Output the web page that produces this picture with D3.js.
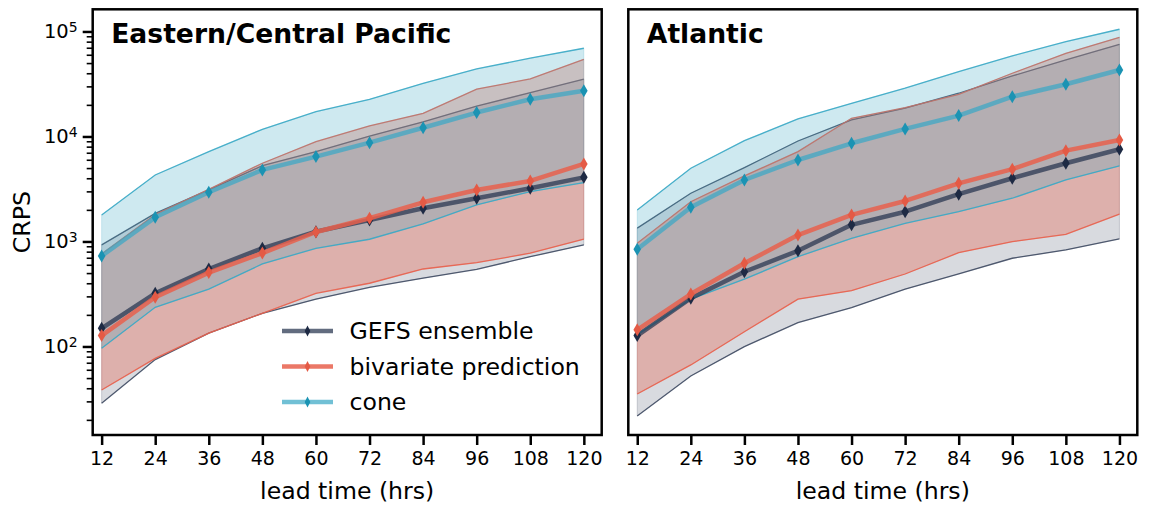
<!DOCTYPE html>
<html>
<head>
<meta charset="utf-8">
<script src="https://cdn.jsdelivr.net/npm/d3@7"></script>
<style>
  body { margin: 0; background: #fff; }
  svg { display: block; font-family: "DejaVu Sans", sans-serif; }
</style>
</head>
<body>
<svg id="chart"></svg>
<script>
// 1. Data (CRPS by lead time)
const leadTimes = [12, 24, 36, 48, 60, 72, 84, 96, 108, 120];
const seriesNames = ["GEFS ensemble", "bivariate prediction", "cone"];
const panelTitles = ["Eastern/Central Pacific", "Atlantic"];
const yMajorTicks = [100, 1000, 10000, 100000];

// Eastern/Central Pacific
const pacGefsMed = [149, 321, 547, 861, 1240, 1600, 2070, 2580, 3210, 4080];
const pacGefsLo = [28.8, 75, 134, 207, 282, 366, 447, 543, 716, 927];
const pacGefsHi = [927, 1850, 3100, 5270, 7170, 10100, 13800, 19500, 26100, 35100];
const pacBivMed = [127, 294, 505, 775, 1230, 1663, 2360, 3090, 3770, 5470];
const pacBivLo = [38.5, 77, 134, 207, 321, 400, 547, 628, 773, 1050];
const pacBivHi = [760, 1800, 3140, 5560, 8920, 12600, 16600, 28200, 35300, 54300];
const pacConeMed = [728, 1698, 2940, 4800, 6430, 8730, 12100, 16900, 22600, 27300];
const pacConeLo = [96, 236, 351, 611, 861, 1050, 1470, 2230, 2980, 3630];
const pacConeHi = [1790, 4300, 7170, 11700, 17200, 22600, 32100, 44000, 55600, 69200];

// Atlantic
const atlGefsMed = [127, 288, 515, 815, 1440, 1920, 2820, 4000, 5560, 7560];
const atlGefsLo = [21.8, 52.4, 99.6, 169, 234, 351, 490, 692, 830, 1060];
const atlGefsHi = [1340, 2880, 5050, 9060, 14400, 18600, 25800, 37700, 53500, 75500];
const atlBivMed = [144, 316, 620, 1150, 1790, 2430, 3580, 4880, 7330, 9270];
const atlBivLo = [35.3, 66.7, 138, 282, 340, 490, 782, 995, 1170, 1820];
const atlBivHi = [962, 2390, 4210, 7170, 14900, 18800, 25200, 40000, 62000, 88000];
const atlConeMed = [843, 2120, 3850, 5970, 8610, 11800, 15800, 23900, 31400, 43000];
const atlConeLo = [129, 282, 437, 716, 1070, 1490, 1920, 2580, 3850, 5240];
const atlConeHi = [1995, 4980, 9120, 14700, 20700, 28800, 41400, 58500, 80000, 105000];

const panels = [
  {
    title: panelTitles[0],
    left: 92.7,
    med: [pacGefsMed, pacBivMed, pacConeMed],
    lo: [pacGefsLo, pacBivLo, pacConeLo],
    hi: [pacGefsHi, pacBivHi, pacConeHi],
    yLabels: true,
    legend: true,
  },
  {
    title: panelTitles[1],
    left: 628.3,
    med: [atlGefsMed, atlBivMed, atlConeMed],
    lo: [atlGefsLo, atlBivLo, atlConeLo],
    hi: [atlGefsHi, atlBivHi, atlConeHi],
    yLabels: false,
    legend: false,
  },
];

// 2. Styling
const baseColors = ["#26334d", "#e8604c", "#3aa8c5"];
const markerColors = ["#1e2a44", "#e45a45", "#1b93b3"];
const fillAlpha = [0.18, 0.35, 0.25];

const width = 1152,
  height = 510,
  marginTop = 9.3,
  panelW = 509,
  panelH = 425.7;

const svg = d3.select("#chart").attr("width", width).attr("height", height);

const x = d3.scaleLinear().domain([10, 124]).range([0, panelW]);
const y = d3.scaleLog().domain([14.35, 162600]).range([panelH, 0]);

// thin diamond marker ('d' in matplotlib)
const diamond = (w, h) => `M0,${-h}L${w},0L0,${h}L${-w},0Z`;

// 3. Draw panels
panels.forEach((p) => {
  const g = svg.append("g").attr("transform", `translate(${p.left},${marginTop})`);

  // fills with their edges
  seriesNames.forEach((name, s) => {
    const area = d3
      .area()
      .x((d, i) => x(leadTimes[i]))
      .y0((d, i) => y(p.lo[s][i]))
      .y1((d, i) => y(p.hi[s][i]));

    g.append("path")
      .attr("d", area(leadTimes))
      .attr("fill", baseColors[s])
      .attr("fill-opacity", fillAlpha[s])
      .attr("stroke", baseColors[s])
      .attr("stroke-opacity", 0.2)
      .attr("stroke-width", 1);

    [p.lo[s], p.hi[s]].forEach((vals) => {
      g.append("path")
        .attr(
          "d",
          d3
            .line()
            .x((d, i) => x(leadTimes[i]))
            .y((d) => y(d))(vals)
        )
        .attr("fill", "none")
        .attr("stroke", baseColors[s])
        .attr("stroke-opacity", s === 0 ? 0.75 : 0.9)
        .attr("stroke-width", 1.3);
    });
  });

  // median lines and markers
  seriesNames.forEach((name, s) => {
    const line = d3
      .line()
      .x((d, i) => x(leadTimes[i]))
      .y((d) => y(d));

    g.append("path")
      .attr("d", line(p.med[s]))
      .attr("fill", "none")
      .attr("stroke", baseColors[s])
      .attr("stroke-opacity", s === 1 ? 0.85 : 0.72)
      .attr("stroke-width", 4.5)
      .attr("stroke-linejoin", "round");

    g.selectAll(null)
      .data(p.med[s])
      .enter()
      .append("path")
      .attr("d", diamond(3.8, 6.5))
      .attr("transform", (d, i) => `translate(${x(leadTimes[i])},${y(d)})`)
      .attr("fill", markerColors[s]);
  });

  // x axis
  const xAxis = g
    .append("g")
    .attr("transform", `translate(0,${panelH})`)
    .call(d3.axisBottom(x).tickValues(leadTimes).tickSize(10).tickPadding(7));
  xAxis.select(".domain").remove();
  xAxis.selectAll(".tick line").attr("stroke", "#000").attr("stroke-width", 2.5);
  xAxis
    .selectAll(".tick text")
    .attr("fill", "#000")
    .attr("font-size", "19px")
    .attr("font-family", "DejaVu Sans, sans-serif");

  g.append("text")
    .attr("x", panelW / 2)
    .attr("y", panelH + 64)
    .attr("text-anchor", "middle")
    .attr("font-size", "23.6px")
    .attr("fill", "#000")
    .text("lead time (hrs)");

  // y axis (shared, labels on the left panel only)
  if (p.yLabels) {
    const minor = [];
    [10, 100, 1000, 10000, 100000].forEach((base) => {
      for (let k = 2; k <= 9; k++) {
        const v = base * k;
        if (v >= y.domain()[0] && v <= y.domain()[1]) minor.push(v);
      }
    });

    const yMinor = g
      .append("g")
      .call(d3.axisLeft(y).tickValues(minor).tickSize(6).tickFormat(""));
    yMinor.select(".domain").remove();
    yMinor.selectAll(".tick line").attr("stroke", "#000").attr("stroke-width", 1.6);

    const yAxis = g
      .append("g")
      .call(d3.axisLeft(y).tickValues(yMajorTicks).tickSize(10).tickPadding(5));
    yAxis.select(".domain").remove();
    yAxis.selectAll(".tick line").attr("stroke", "#000").attr("stroke-width", 2.5);
    yAxis
      .selectAll(".tick text")
      .attr("fill", "#000")
      .attr("font-size", "19.5px")
      .attr("font-family", "DejaVu Sans, sans-serif")
      .each(function (d) {
        const t = d3.select(this);
        t.text("10");
        t.append("tspan")
          .attr("dy", "-0.45em")
          .attr("font-size", "14px")
          .text(String(Math.round(Math.log10(d))));
      });

    g.append("text")
      .attr("transform", `translate(${30.5 - p.left},${panelH / 2}) rotate(-90)`)
      .attr("text-anchor", "middle")
      .attr("font-size", "23.6px")
      .attr("fill", "#000")
      .text("CRPS");
  }

  // frame
  g.append("rect")
    .attr("width", panelW)
    .attr("height", panelH)
    .attr("fill", "none")
    .attr("stroke", "#000")
    .attr("stroke-width", 2.5);

  // panel title
  g.append("text")
    .attr("x", 18.5)
    .attr("y", 33.4)
    .attr("font-size", "26.6px")
    .attr("font-weight", "bold")
    .attr("fill", "#000")
    .text(p.title);

  // 4. Legend
  if (p.legend) {
    const legend = g.append("g").attr("transform", "translate(189.3,321.6)");
    const items = legend
      .selectAll("g")
      .data(seriesNames)
      .enter()
      .append("g")
      .attr("transform", (d, i) => `translate(0,${i * 35.5})`);

    items
      .append("line")
      .attr("x1", 0)
      .attr("x2", 51)
      .attr("stroke", (d, i) => baseColors[i])
      .attr("stroke-opacity", (d, i) => (i === 1 ? 0.85 : 0.72))
      .attr("stroke-width", 4.5);
    items
      .append("path")
      .attr("d", diamond(2.8, 5.5))
      .attr("transform", "translate(25.5,0)")
      .attr("fill", (d, i) => markerColors[i]);
    items
      .append("text")
      .attr("x", 67.5)
      .attr("dy", "0.35em")
      .attr("font-size", "23.6px")
      .attr("fill", "#000")
      .text((d) => d);
  }
});
</script>
</body>
</html>
